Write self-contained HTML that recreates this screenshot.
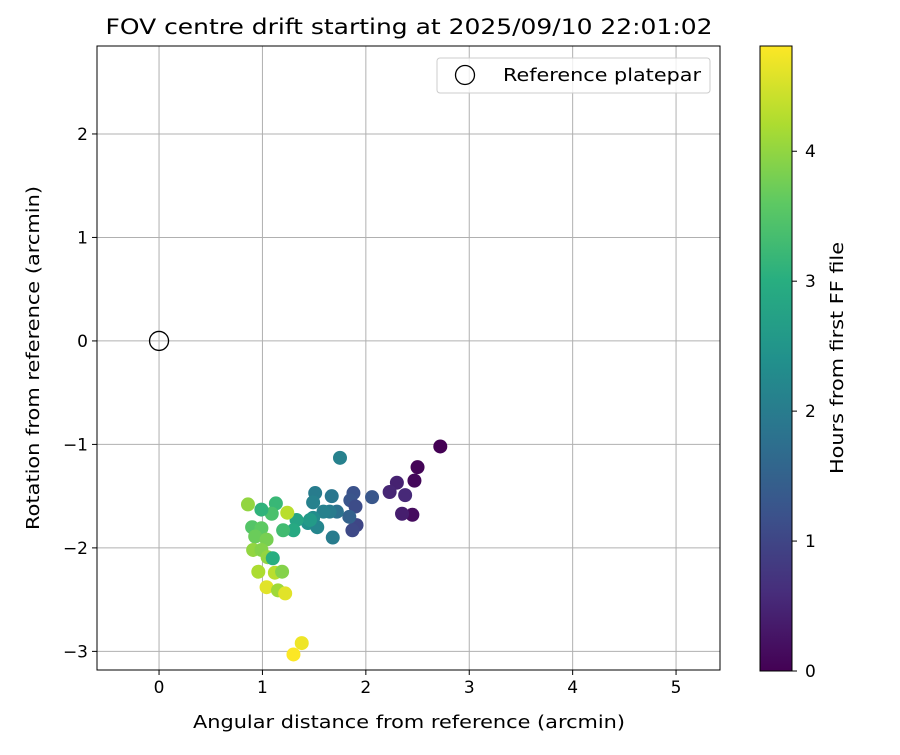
<!DOCTYPE html>
<html><head><meta charset="utf-8"><style>
body{margin:0;background:#fff}
svg text{font-family:"DejaVu Sans","Liberation Sans",sans-serif;fill:#000}
</style></head><body>
<svg id="chart" width="900" height="750" xmlns="http://www.w3.org/2000/svg">
<defs><linearGradient id="vir" x1="0" y1="1" x2="0" y2="0">
<stop offset="0" stop-color="#440154"/><stop offset="0.125" stop-color="#472d7b"/><stop offset="0.25" stop-color="#3b528b"/><stop offset="0.375" stop-color="#2c728e"/><stop offset="0.5" stop-color="#21918c"/><stop offset="0.625" stop-color="#28ae80"/><stop offset="0.75" stop-color="#5ec962"/><stop offset="0.875" stop-color="#addc30"/><stop offset="1" stop-color="#fde725"/></linearGradient></defs>
<text x="409" y="34" font-size="21" text-anchor="middle" textLength="607" lengthAdjust="spacingAndGlyphs">FOV centre drift starting at 2025/09/10 22:01:02</text>
<g id="grid"></g>
<g id="pts"></g>
<rect x="97" y="46" width="623" height="624" fill="none" stroke="#000" stroke-width="1"/>
<g id="ticks"></g>
<text x="409" y="728" font-size="17.5" text-anchor="middle" textLength="432" lengthAdjust="spacingAndGlyphs">Angular distance from reference (arcmin)</text>
<text transform="translate(39,358) rotate(-90)" font-size="17.5" text-anchor="middle" textLength="344" lengthAdjust="spacingAndGlyphs">Rotation from reference (arcmin)</text>
<g>
<rect x="437" y="58" width="273" height="35" rx="3" fill="#fff" fill-opacity="0.8" stroke="#ccc"/>
<circle cx="465" cy="75" r="9.5" fill="none" stroke="#000" stroke-width="1.3"/>
<text x="503" y="81" font-size="17.5" textLength="198" lengthAdjust="spacingAndGlyphs">Reference platepar</text>
</g>
<rect x="760" y="46" width="32" height="625" fill="url(#vir)" stroke="#000" stroke-width="1"/>
<g id="cticks"></g>
<text transform="translate(843,358) rotate(-90)" font-size="17.5" text-anchor="middle" textLength="232" lengthAdjust="spacingAndGlyphs">Hours from first FF file</text>
</svg>
<script>
const xVals=[2.72,2.50,2.47,2.45,2.35,2.30,2.23,2.38,2.06,1.88,1.85,1.90,1.91,1.87,1.84,1.75,1.68,1.67,1.51,1.49,1.72,1.65,1.59,1.49,1.44,1.53,1.46,1.33,1.30,1.20,1.13,1.09,0.99,0.86,0.90,0.99,0.93,1.04,0.91,0.99,1.05,1.10,1.24,0.96,1.12,1.19,1.04,1.15,1.22,1.38,1.30];
const yVals=[-1.02,-1.22,-1.35,-1.68,-1.67,-1.37,-1.46,-1.49,-1.51,-1.47,-1.54,-1.60,-1.78,-1.83,-1.70,-1.13,-1.90,-1.50,-1.47,-1.56,-1.65,-1.65,-1.65,-1.71,-1.76,-1.80,-1.73,-1.73,-1.83,-1.83,-1.57,-1.67,-1.63,-1.58,-1.80,-1.81,-1.89,-1.92,-2.02,-2.02,-2.09,-2.10,-1.66,-2.23,-2.24,-2.23,-2.38,-2.41,-2.44,-2.92,-3.03];
const hours=[0.0,0.05,0.1,0.15,0.4,0.45,0.5,0.55,1.3,1.2,1.25,1.1,1.0,1.05,1.5,2.1,2.0,1.9,2.0,2.1,1.8,2.0,2.1,2.3,2.4,2.2,2.6,2.8,2.9,3.3,3.2,3.4,3.1,4.0,3.5,3.6,3.7,3.8,4.0,3.9,4.0,3.0,4.3,4.2,4.3,3.9,4.6,4.1,4.6,4.7,4.8];
const xTicks=[0,1,2,3,4,5];
const yTicks=[-3,-2,-1,0,1,2];
const cTicks=[0,1,2,3,4];
const X0=97,X1=720,Y0=46,Y1=670,xmin=-0.6,xmax=5.425,ymin=-3.18,ymax=2.85,hmax=4.81;
const sx=v=>X0+(v-xmin)/(xmax-xmin)*(X1-X0);
const sy=v=>Y1-(v-ymin)/(ymax-ymin)*(Y1-Y0);
const sc=h=>671-h/hmax*625;
const stops=["#440154","#472d7b","#3b528b","#2c728e","#21918c","#28ae80","#5ec962","#addc30","#fde725"];
function vir(t){t=Math.max(0,Math.min(1,t))*8;const i=Math.min(7,Math.floor(t)),f=t-i;
const a=stops[i],b=stops[i+1];const c=k=>Math.round(parseInt(a.substr(k,2),16)*(1-f)+parseInt(b.substr(k,2),16)*f);
return `rgb(${c(1)},${c(3)},${c(5)})`;}
const NS="http://www.w3.org/2000/svg";
function mk(tag,attrs,parent){const e=document.createElementNS(NS,tag);for(const k in attrs)e.setAttribute(k,attrs[k]);document.getElementById(parent).appendChild(e);return e;}
xTicks.forEach(t=>{const x=sx(t);
const g=mk('line',{x1:x,x2:x,y1:Y0,y2:Y1,stroke:'#b0b0b0','stroke-width':1},'grid');


mk('line',{x1:x,x2:x,y1:Y1,y2:Y1+5,stroke:'#000'},'ticks');
const l=mk('text',{x:x,y:Y1+23,'font-size':17,'text-anchor':'middle'},'ticks');l.textContent=t;

});
yTicks.forEach(t=>{const y=sy(t);
const g=mk('line',{x1:X0,x2:X1,y1:y,y2:y,stroke:'#b0b0b0','stroke-width':1},'grid');


mk('line',{x1:X0-5,x2:X0,y1:y,y2:y,stroke:'#000'},'ticks');
const l=mk('text',{x:X0-9,y:y+6,'font-size':17,'text-anchor':'end'},'ticks');l.textContent=t<0?'\u2212'+(-t):t;

});
cTicks.forEach(t=>{const y=sc(t);
mk('line',{x1:792,x2:797,y1:y,y2:y,stroke:'#000'},'cticks');
const l=mk('text',{x:805,y:y+6,'font-size':17},'cticks');l.textContent=t;

});
xVals.forEach((v,i)=>{const c=mk('circle',{cx:sx(v),cy:sy(yVals[i]),r:7,fill:vir(hours[i]/hmax)},'pts');

});
const r=mk('circle',{cx:sx(0),cy:sy(0),r:9.5,fill:'none',stroke:'#000','stroke-width':1.3},'pts');


</script>
</body></html>
